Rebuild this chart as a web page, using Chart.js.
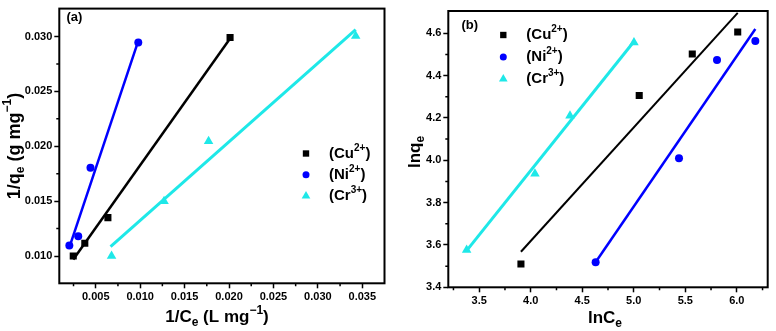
<!DOCTYPE html>
<html>
<head>
<meta charset="utf-8">
<script src="https://cdn.jsdelivr.net/npm/chart.js@4/dist/chart.umd.min.js"></script>
<style>
  body { margin: 0; background: #fff; }
  .wrap { position: absolute; top: 0; height: 331px; }
  #boxA { left: 0; width: 390px; }
  #boxB { left: 390px; width: 386px; }
</style>
</head>
<body>
<div class="wrap" id="boxA"><canvas id="chartA" width="390" height="331"></canvas></div>
<div class="wrap" id="boxB"><canvas id="chartB" width="386" height="331"></canvas></div>
<script>
// series names / look
const ions = ['Cu', 'Ni', 'Cr'];
const charges = ['2+', '2+', '3+'];
const colors = ['#000000', '#0000ff', '#1ee8e8'];
const shapes = ['rect', 'circle', 'triangle'];
const radii = [5, 4, 5.5];

// panel (a): 1/Ce vs 1/qe
const cuInvC = [0.00247, 0.00377, 0.00637, 0.02012];
const cuInvQ = [0.0100, 0.01117, 0.0135, 0.0299];
const niInvC = [0.00203, 0.00303, 0.00441, 0.00979];
const niInvQ = [0.01096, 0.0118, 0.01805, 0.02945];
const crInvC = [0.00678, 0.01269, 0.0177, 0.03426];
const crInvQ = [0.0100, 0.0150, 0.02045, 0.03005];
// fitted lines (a), end points
const cuFitAX = [0.00247, 0.02012], cuFitAY = [0.00968, 0.02981];
const niFitAX = [0.00203, 0.00979], niFitAY = [0.0108, 0.0296];
const crFitAX = [0.00667, 0.03426], crFitAY = [0.01087, 0.03062];

// panel (b): lnCe vs lnqe
const cuLnC = [3.905, 5.053, 5.568, 6.009];
const cuLnQ = [3.510, 4.306, 4.502, 4.606];
const niLnC = [4.630, 5.439, 5.808, 6.180];
const niLnQ = [3.518, 4.010, 4.473, 4.563];
const crLnC = [3.378, 4.041, 4.381, 5.002];
const crLnQ = [3.576, 3.936, 4.210, 4.556];
const cuFitBX = [3.905, 6.009], cuFitBY = [3.568, 4.696];
const niFitBX = [4.626, 6.180], niFitBY = [3.516, 4.620];
const crFitBX = [3.378, 5.002], crFitBY = [3.573, 4.561];

// ticks
const ticksAX = [0.005, 0.010, 0.015, 0.020, 0.025, 0.030, 0.035];
const ticksAY = [0.010, 0.015, 0.020, 0.025, 0.030];
const minorAX = [0.0025, 0.0075, 0.0125, 0.0175, 0.0225, 0.0275, 0.0325];
const minorAY = [0.0125, 0.0175, 0.0225, 0.0275];
const ticksBX = [3.5, 4.0, 4.5, 5.0, 5.5, 6.0];
const ticksBY = [3.4, 3.6, 3.8, 4.0, 4.2, 4.4, 4.6];
const minorBX = [3.25, 3.75, 4.25, 4.75, 5.25, 5.75, 6.25];
const minorBY = [3.5, 3.7, 3.9, 4.1, 4.3, 4.5];

const FAMILY = "'Liberation Sans', Arial, sans-serif";

function pts(xs, ys) {
  return xs.map((x, i) => ({ x: x, y: ys[i] }));
}

function fontOf(part, size) {
  const s = part[1] ? Math.round(size * 0.68) : size;
  return 'bold ' + s + 'px ' + FAMILY;
}

// text with sub/superscript pieces: [text, ''|'sub'|'sup']
function drawRich(ctx, parts, x, y, size, align) {
  let w = 0;
  parts.forEach(p => { ctx.font = fontOf(p, size); w += ctx.measureText(p[0]).width; });
  let cx = align === 'center' ? x - w / 2 : x;
  ctx.textAlign = 'left';
  ctx.textBaseline = 'middle';
  parts.forEach(p => {
    ctx.font = fontOf(p, size);
    const dy = p[1] === 'sub' ? size * 0.32 : p[1] === 'sup' ? -size * 0.38 : 0;
    ctx.fillText(p[0], cx, y + dy);
    cx += ctx.measureText(p[0]).width;
  });
}

function makeFrame(cfg) {
  return {
    id: 'frame' + cfg.tag,
    afterDraw(chart) {
      const ctx = chart.ctx, a = chart.chartArea;
      const x = chart.scales.x, y = chart.scales.y;
      ctx.save();
      ctx.strokeStyle = '#000';
      ctx.lineWidth = 2;
      ctx.strokeRect(a.left, a.top, a.right - a.left, a.bottom - a.top);

      ctx.lineWidth = 1.5;
      ctx.beginPath();
      cfg.minorX.forEach(v => {
        const px = x.getPixelForValue(v);
        ctx.moveTo(px, a.bottom); ctx.lineTo(px, a.bottom + 3);
      });
      cfg.minorY.forEach(v => {
        const py = y.getPixelForValue(v);
        ctx.moveTo(a.left, py); ctx.lineTo(a.left - 3, py);
      });
      ctx.stroke();

      ctx.fillStyle = '#000';
      drawRich(ctx, [[cfg.tag, '']], cfg.tagPos[0], cfg.tagPos[1], 13, 'left');
      drawRich(ctx, cfg.xTitle, cfg.xTitlePos[0], cfg.xTitlePos[1], 17, 'center');
      ctx.save();
      ctx.translate(cfg.yTitlePos[0], cfg.yTitlePos[1]);
      ctx.rotate(-Math.PI / 2);
      drawRich(ctx, cfg.yTitle, 0, 0, cfg.yTitleSize, 'center');
      ctx.restore();

      // legend
      ions.forEach((ion, i) => {
        const ly = cfg.legend[1] + i * cfg.legendGap;
        ctx.fillStyle = colors[i];
        Chart.helpers.drawPoint(ctx, { pointStyle: shapes[i], radius: radii[i] - 0.5, rotation: 0, borderWidth: 0 }, cfg.legend[0], ly);
        ctx.fillStyle = '#000';
        drawRich(ctx, [['(' + ion, ''], [charges[i], 'sup'], [')', '']], cfg.legend[0] + 23, ly, 15, 'left');
      });
      ctx.restore();
    }
  };
}

function axis(pos, min, max, ticks, digits, fit) {
  return {
    type: 'linear',
    position: pos,
    min: min,
    max: max,
    afterBuildTicks: s => { s.ticks = ticks.map(v => ({ value: v })); },
    afterFit: s => { if (pos === 'left') s.width = fit; else s.height = fit; },
    grid: { drawOnChartArea: false, drawTicks: true, tickLength: 5, tickWidth: 1.5, tickColor: '#000' },
    border: { display: false },
    ticks: {
      color: '#000',
      padding: 2,
      autoSkip: false,
      maxRotation: 0,
      font: { family: FAMILY, weight: 'bold', size: 11 },
      callback: v => Number(v).toFixed(digits)
    }
  };
}

function datasets(xsList, ysList, fitX, fitY, widths) {
  const out = [];
  for (let i = 0; i < 3; i++) {
    out.push({
      data: pts(fitX[i], fitY[i]),
      showLine: true,
      pointRadius: 0,
      borderColor: colors[i],
      borderWidth: widths[i]
    });
  }
  for (let i = 0; i < 3; i++) {
    out.push({
      data: pts(xsList[i], ysList[i]),
      showLine: false,
      pointStyle: shapes[i],
      pointRadius: radii[i],
      backgroundColor: colors[i],
      borderColor: colors[i],
      borderWidth: 0
    });
  }
  return out;
}

new Chart(document.getElementById('chartA'), {
  type: 'scatter',
  data: {
    datasets: datasets([cuInvC, niInvC, crInvC], [cuInvQ, niInvQ, crInvQ],
      [cuFitAX, niFitAX, crFitAX], [cuFitAY, niFitAY, crFitAY], [2.5, 2.5, 3])
  },
  options: {
    responsive: false,
    animation: false,
    layout: { padding: { left: 0, right: 2.3, top: 5, bottom: 0 } },
    plugins: { legend: { display: false }, tooltip: { enabled: false } },
    scales: {
      x: axis('bottom', 0.0009, 0.0375, ticksAX, 3, 47.7),
      y: axis('left', 0.00752, 0.03254, ticksAY, 3, 59.3)
    }
  },
  plugins: [makeFrame({
    tag: '(a)', tagPos: [66.5, 17.5],
    minorX: minorAX, minorY: minorAY,
    xTitle: [['1/C', ''], ['e', 'sub'], [' (L mg', ''], ['\u22121', 'sup'], [')', '']],
    xTitlePos: [217, 317],
    yTitle: [['1/q', ''], ['e', 'sub'], [' (g mg', ''], ['\u22121', 'sup'], [')', '']],
    yTitlePos: [15, 146], yTitleSize: 18,
    legend: [306, 153.5], legendGap: 21.2
  })]
});

new Chart(document.getElementById('chartB'), {
  type: 'scatter',
  data: {
    datasets: datasets([cuLnC, niLnC, crLnC], [cuLnQ, niLnQ, crLnQ],
      [cuFitBX, niFitBX, crFitBX], [cuFitBY, niFitBY, crFitBY], [2, 2.5, 3])
  },
  options: {
    responsive: false,
    animation: false,
    layout: { padding: { left: 0, right: 8.3, top: 11, bottom: 0 } },
    plugins: { legend: { display: false }, tooltip: { enabled: false } },
    scales: {
      x: axis('bottom', 3.2, 6.3, ticksBX, 1, 43.7),
      y: axis('left', 3.4, 4.705, ticksBY, 1, 58.3)
    }
  },
  plugins: [makeFrame({
    tag: '(b)', tagPos: [71.5, 25],
    minorX: minorBX, minorY: minorBY,
    xTitle: [['lnC', ''], ['e', 'sub']],
    xTitlePos: [215, 318],
    yTitle: [['lnq', ''], ['e', 'sub']],
    yTitlePos: [25, 152], yTitleSize: 17,
    legend: [113.3, 35], legendGap: 22
  })]
});
</script>
</body>
</html>
